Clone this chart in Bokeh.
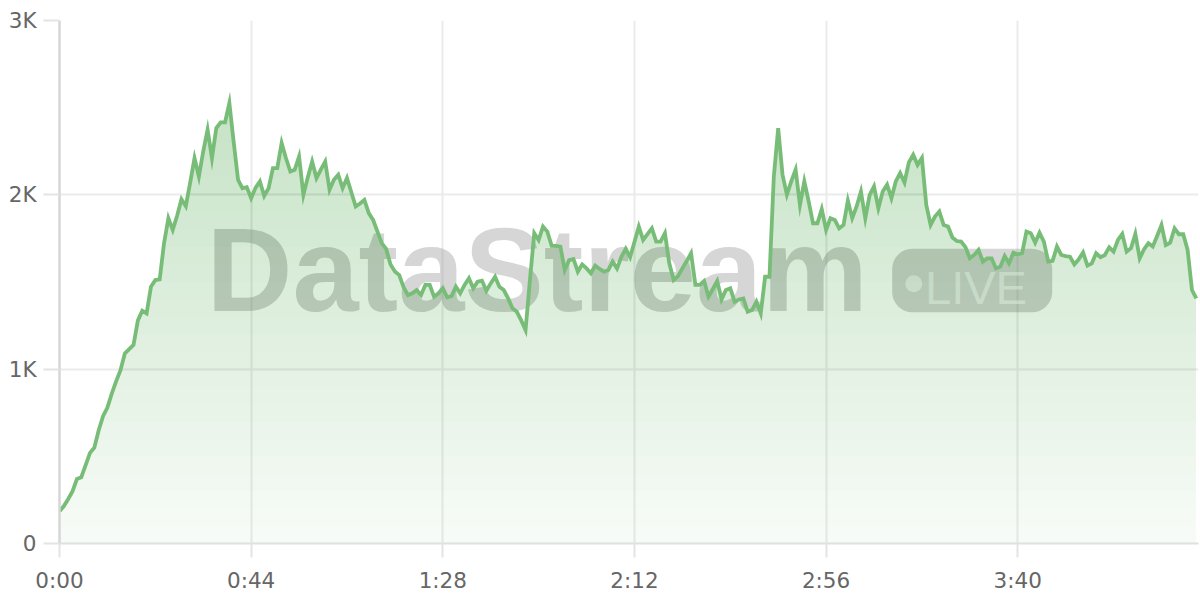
import numpy as np
from bokeh.plotting import figure
from bokeh.models import Range1d, FixedTicker, Label, BoxAnnotation
from bokeh.embed import file_html
from bokeh.resources import INLINE

# ---------------- data ----------------
SECONDS = list(range(262))
VIEWERS = [
    185, 215, 255, 300, 370, 380, 450, 520, 550, 650,
    730, 780, 860, 930, 994, 1090, 1115, 1140, 1280, 1335,
    1320, 1473, 1511, 1515, 1722, 1866, 1799, 1880, 1975, 1935,
    2070, 2211, 2105, 2250, 2374, 2211, 2383, 2416, 2416, 2527,
    2300, 2086, 2038, 2044, 1981, 2040, 2077, 1994, 2038, 2153,
    2153, 2297, 2210, 2134, 2144, 2220, 2000, 2100, 2191, 2096,
    2145, 2191, 2029, 2086, 2115, 2038, 2096, 2015, 1933, 1950,
    1971, 1895, 1856, 1789, 1722, 1690, 1600, 1560, 1540, 1470,
    1425, 1435, 1454, 1425, 1483, 1483, 1416, 1435, 1464, 1412,
    1419, 1473, 1435, 1483, 1521, 1464, 1502, 1508, 1450, 1492,
    1530, 1473, 1454, 1406, 1349, 1329, 1280, 1224, 1510, 1780,
    1741, 1818, 1789, 1707, 1707, 1703, 1569, 1626, 1632, 1559,
    1601, 1578, 1550, 1594, 1575, 1559, 1569, 1617, 1578, 1645,
    1690, 1642, 1730, 1818, 1741, 1775, 1808, 1732, 1732, 1780,
    1607, 1511, 1534, 1578, 1620, 1665, 1483, 1483, 1506, 1416,
    1460, 1506, 1400, 1454, 1464, 1387, 1400, 1406, 1329, 1339,
    1387, 1320, 1530, 1530, 2105, 2383, 2115, 2000, 2077, 2144,
    1942, 2077, 1962, 1837, 1837, 1918, 1799, 1866, 1856, 1808,
    1827, 1967, 1866, 1933, 2019, 1866, 2000, 2048, 1923, 2019,
    2058, 1981, 2077, 2125, 2071, 2186, 2230, 2172, 2211, 1942,
    1827, 1875, 1904, 1827, 1818, 1755, 1735, 1732, 1700, 1636,
    1655, 1684, 1617, 1636, 1636, 1578, 1588, 1649, 1607, 1668,
    1659, 1665, 1789, 1780, 1726, 1783, 1732, 1617, 1621, 1703,
    1655, 1649, 1645, 1601, 1630, 1670, 1594, 1607, 1665, 1642,
    1655, 1699, 1674, 1741, 1776, 1674, 1694, 1776, 1636, 1688,
    1722, 1703, 1764, 1827, 1712, 1726, 1808, 1774, 1774, 1684,
    1454, 1406,
]
X_TICKS = [0, 44, 88, 132, 176, 220]
X_TICK_LABELS = ["0:00", "0:44", "1:28", "2:12", "2:56", "3:40"]
Y_TICKS = [0, 1000, 2000, 3000]
Y_TICK_LABELS = ["0", "1K", "2K", "3K"]

assert len(VIEWERS) == len(SECONDS)

# ---------------- style ----------------
GREEN = "#77bd77"
GRID = "#ebebeb"
AXIS_FONT = "DejaVu Sans"
LABEL_COLOR = "#666666"
WM_COLOR = "#8c8c8c"
WM_ALPHA = 0.36

x = np.array(SECONDS, dtype=float)
vals = np.array(VIEWERS, dtype=float)

p = figure(width=1200, height=600, output_backend="svg", toolbar_location=None,
           x_range=Range1d(0, 261.5), y_range=Range1d(0, 3000),
           min_border_left=59, min_border_right=2, min_border_top=20,
           min_border_bottom=57, background_fill_color="white",
           border_fill_color="white")
p.outline_line_color = None

# axes
p.xaxis.ticker = FixedTicker(ticks=X_TICKS)
p.xaxis.major_label_overrides = {t: s for t, s in zip(X_TICKS, X_TICK_LABELS)}
p.yaxis.ticker = FixedTicker(ticks=Y_TICKS)
p.yaxis.major_label_overrides = {t: s for t, s in zip(Y_TICKS, Y_TICK_LABELS)}
for ax in (p.xaxis, p.yaxis):
    ax.major_label_text_font = AXIS_FONT
    ax.major_label_text_font_size = "21.5px"
    ax.major_label_text_color = LABEL_COLOR
    ax.minor_tick_line_color = None
    ax.major_tick_in = 0
    ax.major_tick_line_color = "#e4e4e4"
    ax.major_tick_line_width = 2
p.xaxis.major_tick_out = 14
p.xaxis.major_label_standoff = 10
p.xaxis.axis_line_color = "#e0e0e0"
p.xaxis.axis_line_width = 2
p.yaxis.major_tick_out = 16
p.yaxis.major_label_standoff = 7
p.yaxis.axis_line_color = "#d6d6d6"
p.yaxis.axis_line_width = 2.5

p.xgrid.ticker = FixedTicker(ticks=X_TICKS)
p.ygrid.ticker = FixedTicker(ticks=Y_TICKS)
p.grid.grid_line_color = GRID
p.grid.grid_line_width = 2

# watermark (screen units relative to the plot frame)
wm_kw = dict(x_units="screen", y_units="screen", level="underlay")
p.add_layout(Label(x=147, y=274, text="DataStream", text_font="Liberation Sans",
                   text_font_style="bold", text_font_size="119px",
                   text_color=WM_COLOR, text_alpha=WM_ALPHA,
                   text_baseline="alphabetic", text_align="left", **wm_kw))
p.add_layout(BoxAnnotation(left=832.7, right=992.7, bottom=231.3, top=294.7,
                           left_units="screen", right_units="screen",
                           bottom_units="screen", top_units="screen",
                           fill_color=WM_COLOR, fill_alpha=WM_ALPHA,
                           line_color=None, border_radius=20, level="underlay"))
p.add_layout(BoxAnnotation(left=845.8, right=862.8, bottom=251.2, top=268.2,
                           left_units="screen", right_units="screen",
                           bottom_units="screen", top_units="screen",
                           fill_color="white", fill_alpha=0.55,
                           line_color=None, border_radius=9, level="underlay"))
p.add_layout(Label(x=865.5, y=256, text="LIVE", text_font="Liberation Sans",
                   text_font_size="47px", text_color="white", text_alpha=0.55,
                   text_baseline="alphabetic", text_align="left", **wm_kw))

# gradient fill under the line: stacked translucent bands
A_BOTTOM, A_TOP, H_TOP = 0.06, 0.30, 2500.0
def target_alpha(h):
    return A_BOTTOM + (A_TOP - A_BOTTOM) * h / H_TOP

p.varea(x=x, y1=0, y2=vals, fill_color=GREEN, fill_alpha=A_BOTTOM)
step = 100
prev = target_alpha(0)
for lvl in range(step, int(vals.max()), step):
    a = target_alpha(lvl)
    band_alpha = 1 - (1 - a) / (1 - prev)
    prev = a
    p.varea(x=x, y1=lvl, y2=np.maximum(vals, lvl), fill_color=GREEN,
            fill_alpha=band_alpha)

p.line(x=x, y=vals, line_color=GREEN, line_width=3.8, line_join="miter")

open("out.html", "w").write(file_html(p, INLINE))
